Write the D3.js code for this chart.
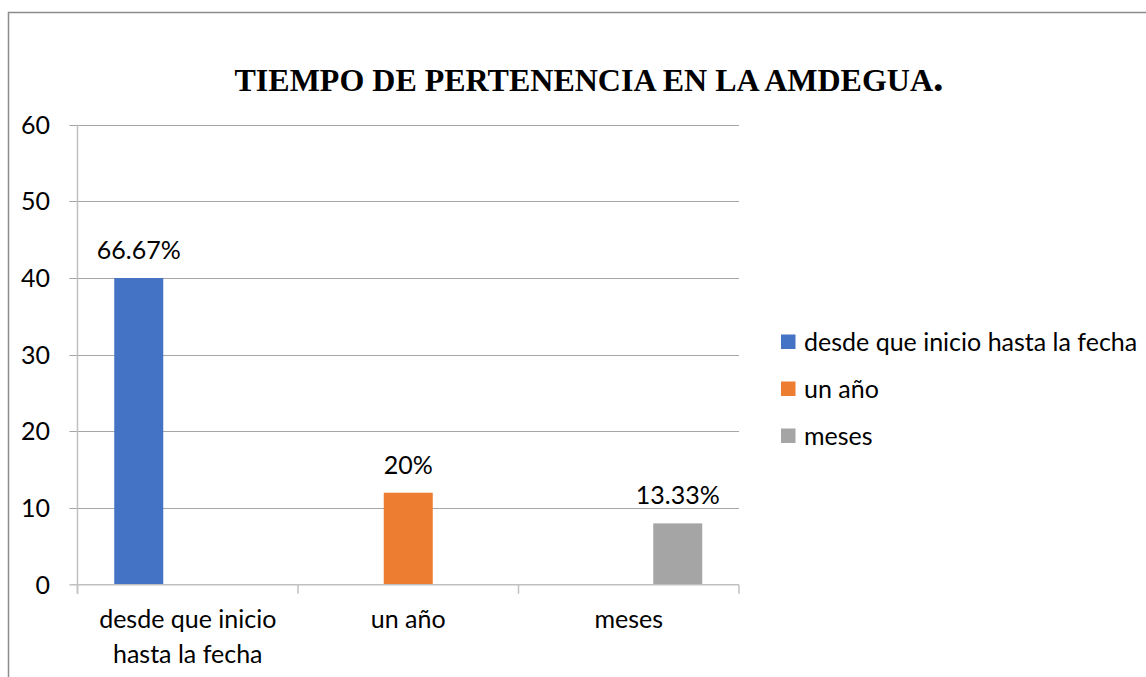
<!DOCTYPE html>
<html>
<head>
<meta charset="utf-8">
<script src="https://cdn.jsdelivr.net/npm/d3@7"></script>
<style>
  html, body { margin: 0; padding: 0; background: #fff; }
  svg { display: block; }
</style>
</head>
<body>
<svg id="chart" width="1146" height="677"></svg>
<script>
const title = "TIEMPO DE PERTENENCIA EN LA AMDEGUA";
const categories = [["desde que inicio", "hasta la fecha"], ["un año"], ["meses"]];
const categoryKeys = ["desde que inicio hasta la fecha", "un año", "meses"];
const seriesNames = ["desde que inicio hasta la fecha", "un año", "meses"];
const seriesColors = ["#4472C4", "#ED7D31", "#A5A5A5"];
// values per series, per category (null = no bar)
const seriesValues = [
  [40, null, null],
  [null, 12, null],
  [null, null, 8]
];
const seriesLabels = ["66.67%", "20%", "13.33%"];
const yTicks = [0, 10, 20, 30, 40, 50, 60];

const svg = d3.select("#chart");
const W = 1146, H = 677;
const font = "Lato, 'Open Sans', sans-serif";
const fs = 25;

// outer frame
svg.append("path")
  .attr("d", `M8.5,${H} L8.5,12.5 L${W},12.5`)
  .attr("fill", "none").attr("stroke", "#8c8c8c").attr("stroke-width", 1.5);

// title
const t = svg.append("text")
  .attr("x", 589).attr("y", 91)
  .attr("text-anchor", "middle")
  .attr("font-family", "'Liberation Serif', 'Times New Roman', serif")
  .attr("font-weight", "bold")
  .attr("font-size", 32)
  .attr("fill", "#000");
t.append("tspan").text(title);
t.append("tspan").attr("font-size", 42).text(".");

const x0 = 77.5, x1 = 739, yTop = 124.7, yBot = 584.7;
const x = d3.scaleBand().domain(categoryKeys).range([x0, x1]).paddingInner(0).paddingOuter(0);
const xs = d3.scaleBand().domain(d3.range(seriesNames.length)).range([0, x.bandwidth()])
  .paddingInner(0).paddingOuter(0.75);
const y = d3.scaleLinear().domain([0, 60]).range([yBot, yTop]);

// gridlines
svg.append("g").selectAll("line").data(yTicks.filter(d => d > 0)).join("line")
  .attr("x1", x0 - 8).attr("x2", x1)
  .attr("y1", d => Math.round(y(d)) + 0.5).attr("y2", d => Math.round(y(d)) + 0.5)
  .attr("stroke", "#a6a6a6").attr("stroke-width", 1);

// y axis line
svg.append("line").attr("x1", x0).attr("x2", x0).attr("y1", yTop).attr("y2", yBot + 9)
  .attr("stroke", "#c0c0c0").attr("stroke-width", 1.5);

// bars
seriesValues.forEach((vals, si) => {
  const d0 = vals.map((v, ci) => ({v, ci})).filter(d => d.v != null);
  svg.append("g").selectAll("rect").data(d0).join("rect")
    .attr("x", d => x(categoryKeys[d.ci]) + xs(si))
    .attr("width", xs.bandwidth())
    .attr("y", d => y(d.v))
    .attr("height", d => y(0) - y(d.v))
    .attr("fill", seriesColors[si]);
  svg.append("g").selectAll("text").data(d0).join("text")
    .attr("x", d => x(categoryKeys[d.ci]) + xs(si) + xs.bandwidth() / 2)
    .attr("y", d => y(d.v) - 19)
    .attr("text-anchor", "middle")
    .attr("font-family", font).attr("font-size", fs).attr("fill", "#000")
    .text(seriesLabels[si]);
});

// x axis line
svg.append("line").attr("x1", x0 - 8).attr("x2", x1).attr("y1", yBot).attr("y2", yBot)
  .attr("stroke", "#c0c0c0").attr("stroke-width", 1.5);
// x ticks
const bounds = categoryKeys.map(c => x(c)).concat([x1]);
svg.append("g").selectAll("line").data(bounds).join("line")
  .attr("x1", d => d).attr("x2", d => d).attr("y1", yBot).attr("y2", yBot + 9)
  .attr("stroke", "#c0c0c0").attr("stroke-width", 1.5);

// y tick labels
svg.append("g").selectAll("text").data(yTicks).join("text")
  .attr("x", 50).attr("y", d => y(d) + 9)
  .attr("text-anchor", "end")
  .attr("font-family", font).attr("font-size", fs).attr("fill", "#000")
  .text(d => d);

// x labels
categories.forEach((lines, ci) => {
  const cx = x(categoryKeys[ci]) + x.bandwidth() / 2;
  const tx = svg.append("text")
    .attr("x", cx).attr("y", 628)
    .attr("text-anchor", "middle")
    .attr("font-family", font).attr("font-size", fs).attr("fill", "#000");
  lines.forEach((ln, i) => tx.append("tspan")
    .attr("x", cx).attr("dy", i === 0 ? 0 : 35).text(ln));
});

// legend
const lg = svg.append("g");
seriesNames.forEach((n, i) => {
  const ly = 342 + i * 47;
  lg.append("rect").attr("x", 781).attr("y", ly - 7.5).attr("width", 14.5).attr("height", 14.5)
    .attr("fill", seriesColors[i]);
  lg.append("text").attr("x", 804).attr("y", ly + 8.5)
    .attr("font-family", font).attr("font-size", fs).attr("fill", "#000").text(n);
});
</script>
</body>
</html>
